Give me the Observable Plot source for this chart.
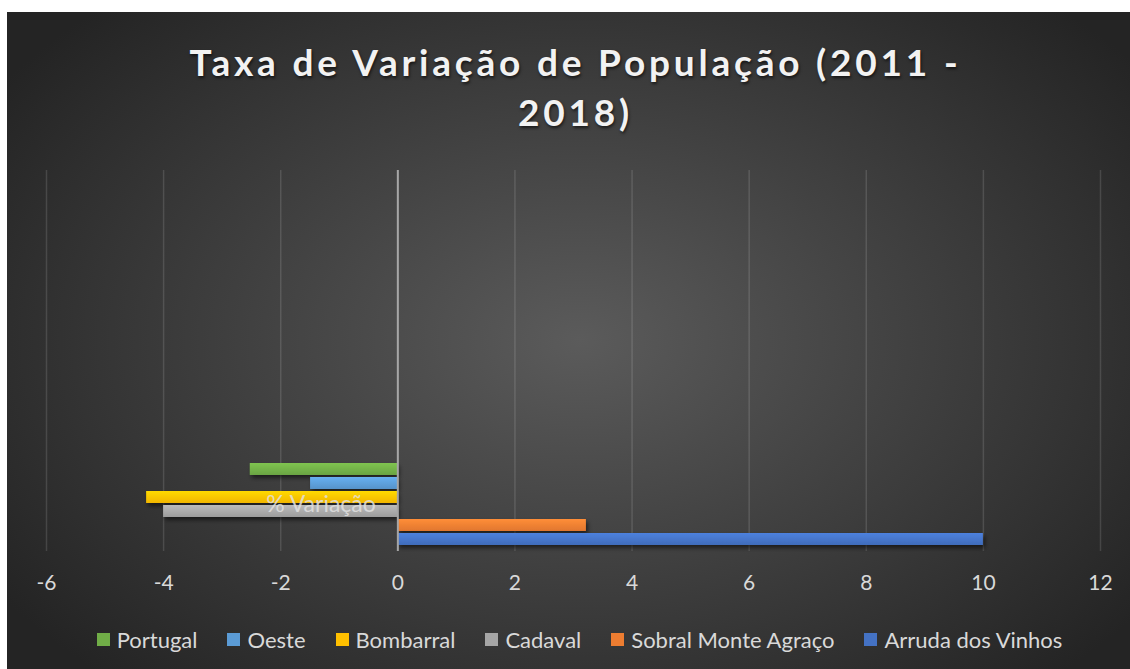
<!DOCTYPE html>
<html><head><meta charset="utf-8">
<script src="https://cdn.jsdelivr.net/npm/d3@7"></script>
<script src="https://cdn.jsdelivr.net/npm/@observablehq/plot@0.6"></script>
<style>
html,body{margin:0;padding:0;background:#fff;}
#chart{position:absolute;left:7px;top:12px;width:1123px;height:657px;overflow:hidden;
  background: radial-gradient(ellipse 62% 70% at 51% 50%, #5b5b5b 0%, #3a3a3a 60%, #242424 100%);
  font-family:Lato, "Open Sans", sans-serif;}
#title{position:absolute;left:7px;top:25px;width:100%;text-align:center;color:#f2f2f2;font-weight:bold;
  font-size:37px;letter-spacing:3.8px;line-height:50px;text-shadow:1px 2px 3px rgba(0,0,0,0.6);}
#plot{position:absolute;left:0;top:138px;}
#legend{position:absolute;left:11px;top:611px;width:100%;display:flex;justify-content:center;}
.lg-swatches{font-family:Lato,sans-serif !important;font-size:22px !important;color:#d9d9d9 !important;}
.lg-swatch{margin-right:30px !important;}
.lg-swatch:last-child{margin-right:0 !important;}
.lg-swatch svg{margin-right:7px !important;}
</style></head>
<body>
<div id="chart">
  <div id="title">Taxa de Variação de População (2011 -<br>2018)</div>
  <div id="plot"></div>
  <div id="legend"></div>
</div>
<script>
const category = "% Variação";
const series = ["Portugal","Oeste","Bombarral","Cadaval","Sobral Monte Agraço","Arruda dos Vinhos"];
const values = [-2.52, -1.49, -4.29, -4.0, 3.22, 10.0];
const colors = ["#70AD47","#5B9BD5","#FFC000","#A5A5A5","#ED7D31","#4472C4"];
const xTicks = [-6,-4,-2,0,2,4,6,8,10,12];

const data = series.map((s,i) => ({category, series:s, value:values[i]}));

const W = 1123, H = 440, mTop = 20, mBottom = 39, mLeft = 39, mRight = 30;
const plotBottom = H - mBottom;
const step = 14;
const groupRange = [plotBottom - 6*step - 6, plotBottom - 4];
const fmt = d => String(d);

const chart = Plot.plot({
  width: W, height: H,
  marginTop: mTop, marginBottom: mBottom, marginLeft: mLeft, marginRight: mRight,
  style: {background: "transparent", fontFamily: "Lato, sans-serif", fontSize: "21px", color: "#d9d9d9", overflow: "visible"},
  x: {domain: [-6, 12], ticks: xTicks, tickSize: 0, tickPadding: 24, label: null, tickFormat: fmt},
  y: {domain: series, range: groupRange, padding: 0.14, axis: null},
  color: {domain: series, range: colors},
  marks: [
    Plot.gridX(xTicks, {stroke: "#ffffff", strokeOpacity: 0.13, strokeWidth: 1.5}),
    Plot.barX(data, {x: "value", y: "series", fill: "series"}),
    Plot.ruleX([0], {stroke: "#a6a6a6", strokeWidth: 2}),
    Plot.text([category], {x: 0, y: () => series[2], text: d => d, dy: 7, dx: -22, textAnchor: "end",
      fill: "#e0e0e0", fillOpacity: 0.85, fontSize: 23}),
    Plot.axisX({ticks: xTicks, tickFormat: fmt, tickSize: 0, tickPadding: 24, fill: "#d9d9d9", fontSize: 21, label: null})
  ]
});

// bar gradients and shadow
const svg = d3.select(chart);
const defs = svg.append("defs");
const f = defs.append("filter").attr("id","shadow").attr("x","-5%").attr("y","-50%").attr("width","115%").attr("height","250%");
f.append("feDropShadow").attr("dx",2).attr("dy",3).attr("stdDeviation",2).attr("flood-color","#000").attr("flood-opacity",0.55);
svg.selectAll("g[aria-label='bar'] rect").each(function(d,i){
  const el = d3.select(this);
  const c = el.attr("fill");
  const id = "grad" + i;
  const g = defs.append("linearGradient").attr("id", id).attr("x1",0).attr("y1",0).attr("x2",0).attr("y2",1);
  g.append("stop").attr("offset","0%").attr("stop-color", d3.color(c).brighter(0.35).formatHex());
  g.append("stop").attr("offset","100%").attr("stop-color", d3.color(c).darker(0.15).formatHex());
  el.attr("fill", `url(#${id})`).attr("filter","url(#shadow)");
});
svg.select("g[aria-label='text']").raise();
document.getElementById("plot").appendChild(chart);

const legend = Plot.legend({
  color: {domain: series, range: colors},
  legend: "swatches", swatchSize: 13, className: "lg",
  style: {fontFamily: "Lato, sans-serif", fontSize: "22px", color: "#d9d9d9"}
});
document.getElementById("legend").appendChild(legend);
</script>
</body></html>
